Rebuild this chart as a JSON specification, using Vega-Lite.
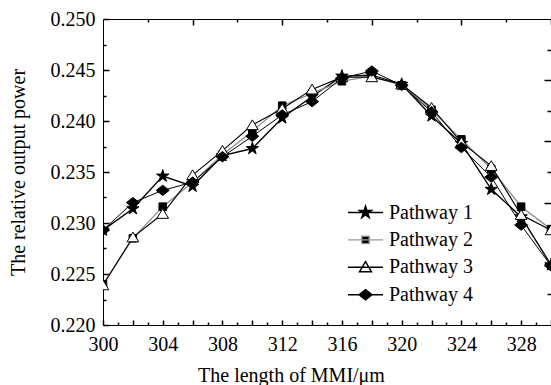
{
  "$schema": "https://vega.github.io/schema/vega-lite/v6.json",
  "width": 448,
  "height": 306,
  "autosize": {"type": "none"},
  "padding": {"left": 103, "top": 19, "right": 0, "bottom": 60},
  "background": "white",
  "config": {
    "font": "Liberation Serif",
    "view": {"stroke": null},
    "axis": {
      "labelFont": "Liberation Serif",
      "titleFont": "Liberation Serif",
      "labelFontSize": 20,
      "titleFontSize": 20,
      "labelColor": "black",
      "titleColor": "black",
      "titleFontWeight": "normal",
      "domainColor": "black",
      "domainWidth": 1,
      "tickColor": "black",
      "tickWidth": 1.5,
      "grid": false,
      "labelFlush": false,
      "labelOverlap": false
    },
    "legend": {"labelFont": "Liberation Serif"}
  },
  "data": {
    "values": [
      {"series": "Pathway 1", "len": 300, "power": 0.2293},
      {"series": "Pathway 1", "len": 302, "power": 0.2314},
      {"series": "Pathway 1", "len": 304, "power": 0.2346},
      {"series": "Pathway 1", "len": 306, "power": 0.2336},
      {"series": "Pathway 1", "len": 308, "power": 0.2366},
      {"series": "Pathway 1", "len": 310, "power": 0.2373},
      {"series": "Pathway 1", "len": 312, "power": 0.2403},
      {"series": "Pathway 1", "len": 314, "power": 0.2424},
      {"series": "Pathway 1", "len": 316, "power": 0.2444},
      {"series": "Pathway 1", "len": 318, "power": 0.2445},
      {"series": "Pathway 1", "len": 320, "power": 0.2436},
      {"series": "Pathway 1", "len": 322, "power": 0.2405},
      {"series": "Pathway 1", "len": 324, "power": 0.2378},
      {"series": "Pathway 1", "len": 326, "power": 0.2333},
      {"series": "Pathway 1", "len": 328, "power": 0.2306},
      {"series": "Pathway 1", "len": 330, "power": 0.2259},
      {"series": "Pathway 2", "len": 300, "power": 0.2240},
      {"series": "Pathway 2", "len": 302, "power": 0.2285},
      {"series": "Pathway 2", "len": 304, "power": 0.2316},
      {"series": "Pathway 2", "len": 306, "power": 0.2340},
      {"series": "Pathway 2", "len": 308, "power": 0.2367},
      {"series": "Pathway 2", "len": 310, "power": 0.2390},
      {"series": "Pathway 2", "len": 312, "power": 0.2415},
      {"series": "Pathway 2", "len": 314, "power": 0.2427},
      {"series": "Pathway 2", "len": 316, "power": 0.2439},
      {"series": "Pathway 2", "len": 318, "power": 0.2444},
      {"series": "Pathway 2", "len": 320, "power": 0.2435},
      {"series": "Pathway 2", "len": 322, "power": 0.2411},
      {"series": "Pathway 2", "len": 324, "power": 0.2382},
      {"series": "Pathway 2", "len": 326, "power": 0.2353},
      {"series": "Pathway 2", "len": 328, "power": 0.2316},
      {"series": "Pathway 2", "len": 330, "power": 0.2294},
      {"series": "Pathway 3", "len": 300, "power": 0.2239},
      {"series": "Pathway 3", "len": 302, "power": 0.2286},
      {"series": "Pathway 3", "len": 304, "power": 0.2309},
      {"series": "Pathway 3", "len": 306, "power": 0.2347},
      {"series": "Pathway 3", "len": 308, "power": 0.2371},
      {"series": "Pathway 3", "len": 310, "power": 0.2396},
      {"series": "Pathway 3", "len": 312, "power": 0.2412},
      {"series": "Pathway 3", "len": 314, "power": 0.2431},
      {"series": "Pathway 3", "len": 316, "power": 0.2443},
      {"series": "Pathway 3", "len": 318, "power": 0.2443},
      {"series": "Pathway 3", "len": 320, "power": 0.2436},
      {"series": "Pathway 3", "len": 322, "power": 0.2413},
      {"series": "Pathway 3", "len": 324, "power": 0.2379},
      {"series": "Pathway 3", "len": 326, "power": 0.2356},
      {"series": "Pathway 3", "len": 328, "power": 0.2308},
      {"series": "Pathway 3", "len": 330, "power": 0.2293},
      {"series": "Pathway 4", "len": 300, "power": 0.2293},
      {"series": "Pathway 4", "len": 302, "power": 0.2320},
      {"series": "Pathway 4", "len": 304, "power": 0.2332},
      {"series": "Pathway 4", "len": 306, "power": 0.2340},
      {"series": "Pathway 4", "len": 308, "power": 0.2365},
      {"series": "Pathway 4", "len": 310, "power": 0.2385},
      {"series": "Pathway 4", "len": 312, "power": 0.2406},
      {"series": "Pathway 4", "len": 314, "power": 0.2419},
      {"series": "Pathway 4", "len": 316, "power": 0.2442},
      {"series": "Pathway 4", "len": 318, "power": 0.2449},
      {"series": "Pathway 4", "len": 320, "power": 0.2435},
      {"series": "Pathway 4", "len": 322, "power": 0.2409},
      {"series": "Pathway 4", "len": 324, "power": 0.2374},
      {"series": "Pathway 4", "len": 326, "power": 0.2345},
      {"series": "Pathway 4", "len": 328, "power": 0.2298},
      {"series": "Pathway 4", "len": 330, "power": 0.2258}
    ]
  },
  "resolve": {
    "axis": {"x": "independent", "y": "independent"},
    "scale": {"shape": "independent", "fill": "independent", "stroke": "independent"}
  },
  "layer": [
    {
      "mark": {"type": "line", "clip": true},
      "encoding": {
        "x": {
          "field": "len", "type": "quantitative",
          "scale": {"domain": [300, 330], "nice": false, "zero": false},
          "axis": {
            "orient": "bottom",
            "values": [300, 302, 304, 306, 308, 310, 312, 314, 316, 318, 320, 322, 324, 326, 328, 330],
            "labelExpr": "(datum.value % 4 === 0 && datum.value < 330) ? datum.label : ''",
            "labelFont": "Liberation Serif",
            "tickSize": -5,
            "labelPadding": 14,
            "title": "The length of MMI/μm",
            "titleFont": "Liberation Serif",
            "titleX": 188,
            "titleY": 56,
            "titleAlign": "center",
            "titleAnchor": null,
            "titleBaseline": "alphabetic"
          }
        },
        "y": {
          "field": "power", "type": "quantitative",
          "scale": {"domain": [0.22, 0.25], "nice": false, "zero": false},
          "axis": {
            "orient": "left",
            "values": [0.22, 0.225, 0.23, 0.235, 0.24, 0.245, 0.25],
            "format": ".3f",
            "labelFont": "Liberation Serif",
            "tickSize": -6,
            "labelPadding": 14,
            "title": "The relative output power",
            "titleFont": "Liberation Serif",
            "titleX": -85,
            "titleY": 153,
            "titleAngle": -90,
            "titleAlign": "center",
            "titleAnchor": null,
            "titleBaseline": "middle"
          }
        },
        "color": {
          "field": "series", "type": "nominal",
          "scale": {"range": ["#000000", "#8c8c8c", "#000000", "#000000"]},
          "legend": null
        },
        "strokeWidth": {
          "field": "series", "type": "ordinal",
          "scale": {"range": [1.4, 1, 1, 2.3]},
          "legend": null
        }
      }
    },
    {
      "mark": {"type": "point", "clip": true, "opacity": 1, "stroke": "black", "strokeWidth": 1, "size": 169},
      "encoding": {
        "x": {
          "field": "len", "type": "quantitative",
          "axis": {
            "orient": "bottom",
            "values": [301, 303, 305, 307, 309, 311, 313, 315, 317, 319, 321, 323, 325, 327, 329],
            "labels": false, "domain": false, "tickSize": -3, "title": null
          }
        },
        "y": {
          "field": "power", "type": "quantitative",
          "axis": {
            "orient": "left",
            "values": [0.2225, 0.2275, 0.2325, 0.2375, 0.2425, 0.2475],
            "labels": false, "domain": false, "tickSize": -3, "title": null
          }
        },
        "fill": {
          "field": "series", "type": "nominal",
          "scale": {"range": ["black", "black", "white", "black"]},
          "legend": null
        },
        "shape": {
          "field": "series", "type": "nominal",
          "scale": {
            "range": [
              "M0,-1L0.2245,-0.309L0.9511,-0.309L0.3633,0.118L0.5878,0.809L0,0.382L-0.5878,0.809L-0.3633,0.118L-0.9511,-0.309L-0.2245,-0.309Z",
              "M-0.58,-0.58H0.58V0.58H-0.58Z",
              "M0,-0.8L0.9,0.7H-0.9Z",
              "M0,-0.8L1,0L0,0.8L-1,0Z"
            ]
          },
          "legend": null
        }
      }
    },
    {
      "mark": {"type": "point", "clip": true, "opacity": 0, "size": 625},
      "encoding": {
        "x": {
          "field": "len", "type": "quantitative",
          "axis": {
            "orient": "top",
            "values": [306, 312, 318, 324, 330],
            "labels": false, "domain": true, "tickSize": -6, "title": null
          }
        },
        "y": {
          "field": "power", "type": "quantitative",
          "axis": {
            "orient": "right",
            "values": [0.226, 0.232, 0.238, 0.244],
            "labels": false, "domain": false, "tickSize": -7, "title": null
          }
        },
        "shape": {
          "field": "series", "type": "nominal",
          "scale": {
            "domain": ["Pathway 1", "Pathway 2", "Pathway 3", "Pathway 4"],
            "range": [
              "M-1.4,0H1.4M0,-0.518L0.116,-0.16L0.493,-0.16L0.188,0.062L0.304,0.419L0,0.197L-0.304,0.419L-0.188,0.062L-0.493,-0.16L-0.116,-0.16Z",
              "M-1.4,0H1.4M-0.3,-0.3H0.3V0.3H-0.3Z",
              "M-1.4,0H1.4M0,-0.45L0.48,0.36H-0.48Z",
              "M-1.4,0H1.4M0,-0.41L0.52,0L0,0.41L-0.52,0Z"
            ]
          },
          "legend": {
            "title": null,
            "orient": "none",
            "legendX": 249,
            "legendY": 180,
            "padding": 0,
            "rowPadding": 3.4,
            "symbolSize": 625,
            "symbolOpacity": 1,
            "symbolStrokeWidth": 1.4,
            "labelOffset": 10,
            "labelFont": "Liberation Serif",
            "labelFontSize": 20,
            "labelColor": "black"
          }
        },
        "fill": {
          "field": "series", "type": "nominal",
          "scale": {"domain": ["Pathway 1", "Pathway 2", "Pathway 3", "Pathway 4"], "range": ["black", "black", "white", "black"]}
        },
        "stroke": {
          "field": "series", "type": "nominal",
          "scale": {"domain": ["Pathway 1", "Pathway 2", "Pathway 3", "Pathway 4"], "range": ["black", "#9a9a9a", "black", "black"]}
        }
      }
    },
    {
      "mark": {"type": "point", "clip": true, "opacity": 0},
      "encoding": {
        "x": {
          "field": "len", "type": "quantitative",
          "axis": {
            "orient": "top",
            "values": [303, 309, 315, 321, 327],
            "labels": false, "domain": false, "tickSize": -3, "title": null
          }
        },
        "y": {
          "field": "power", "type": "quantitative",
          "axis": {
            "orient": "right",
            "values": [0.223, 0.229, 0.235, 0.241, 0.247],
            "labels": false, "domain": false, "tickSize": -4, "title": null
          }
        }
      }
    }
  ]
}
